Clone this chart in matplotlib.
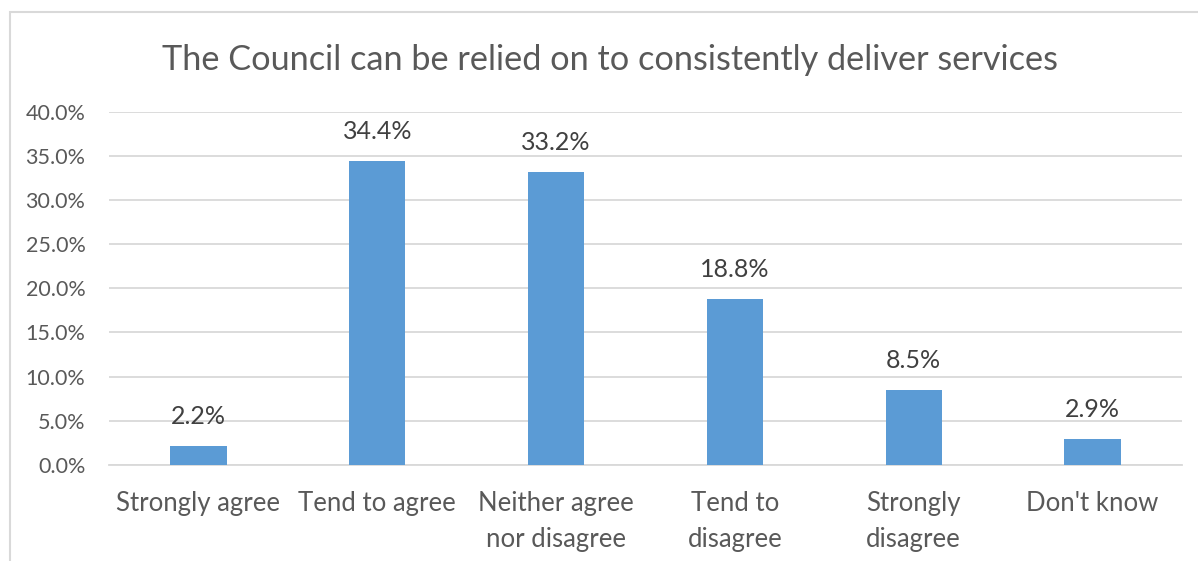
import matplotlib.pyplot as plt
from matplotlib.patches import Rectangle
from matplotlib.ticker import FuncFormatter

# Survey responses and their share of respondents (%)
categories = ["Strongly agree", "Tend to agree", "Neither agree\nnor disagree",
              "Tend to\ndisagree", "Strongly\ndisagree", "Don't know"]
shares = [2.2, 34.4, 33.2, 18.8, 8.5, 2.9]
y_ticks = [0, 5, 10, 15, 20, 25, 30, 35, 40]

BAR_COLOR = "#5B9BD5"
TEXT_COLOR = "#595959"
GRID_COLOR = "#D9D9D9"

plt.rcParams['font.family'] = ['Lato', 'DejaVu Sans']

fig = plt.figure(figsize=(11.98, 5.61), dpi=100)
ax = fig.add_axes([109 / 1198, 1 - 465 / 561, (1182 - 109) / 1198, (465 - 111.5) / 561])

x = range(len(categories))
bars = ax.bar(x, shares, width=0.315, color=BAR_COLOR, zorder=3)

# value labels above each bar
for rect, val in zip(bars, shares):
    ax.annotate(f"{val:.1f}%", (rect.get_x() + rect.get_width() / 2, val),
                xytext=(0, 13), textcoords="offset points",
                ha="center", va="bottom", fontsize=18, color="#404040")

ax.set_xlim(-0.5, len(categories) - 0.5)
ax.set_ylim(0, 40)
ax.set_yticks(y_ticks)
ax.yaxis.set_major_formatter(FuncFormatter(lambda v, _: f"{v:.1f}%"))
ax.set_xticks(list(x))
ax.set_xticklabels(categories, linespacing=1.55)

ax.grid(axis="y", color=GRID_COLOR, linewidth=1.3, zorder=0)
ax.tick_params(axis="y", length=0, pad=17, labelsize=15.5, labelcolor=TEXT_COLOR)
ax.tick_params(axis="x", length=0, pad=19, labelsize=18.5, labelcolor=TEXT_COLOR)
for side in ("top", "right", "left"):
    ax.spines[side].set_visible(False)
ax.spines["bottom"].set_color(GRID_COLOR)
ax.spines["bottom"].set_linewidth(1.3)

fig.text(610 / 1198, 1 - 60 / 561, "The Council can be relied on to consistently deliver services",
         ha="center", va="center", fontsize=24.7, color=TEXT_COLOR)

# chart area border
fig.add_artist(Rectangle((10 / 1198, -0.1), 1.2, 1.1 - 12.5 / 561, transform=fig.transFigure,
                         fill=False, edgecolor=GRID_COLOR, linewidth=1.5, clip_on=False))

fig.savefig("out.png", dpi=100)
